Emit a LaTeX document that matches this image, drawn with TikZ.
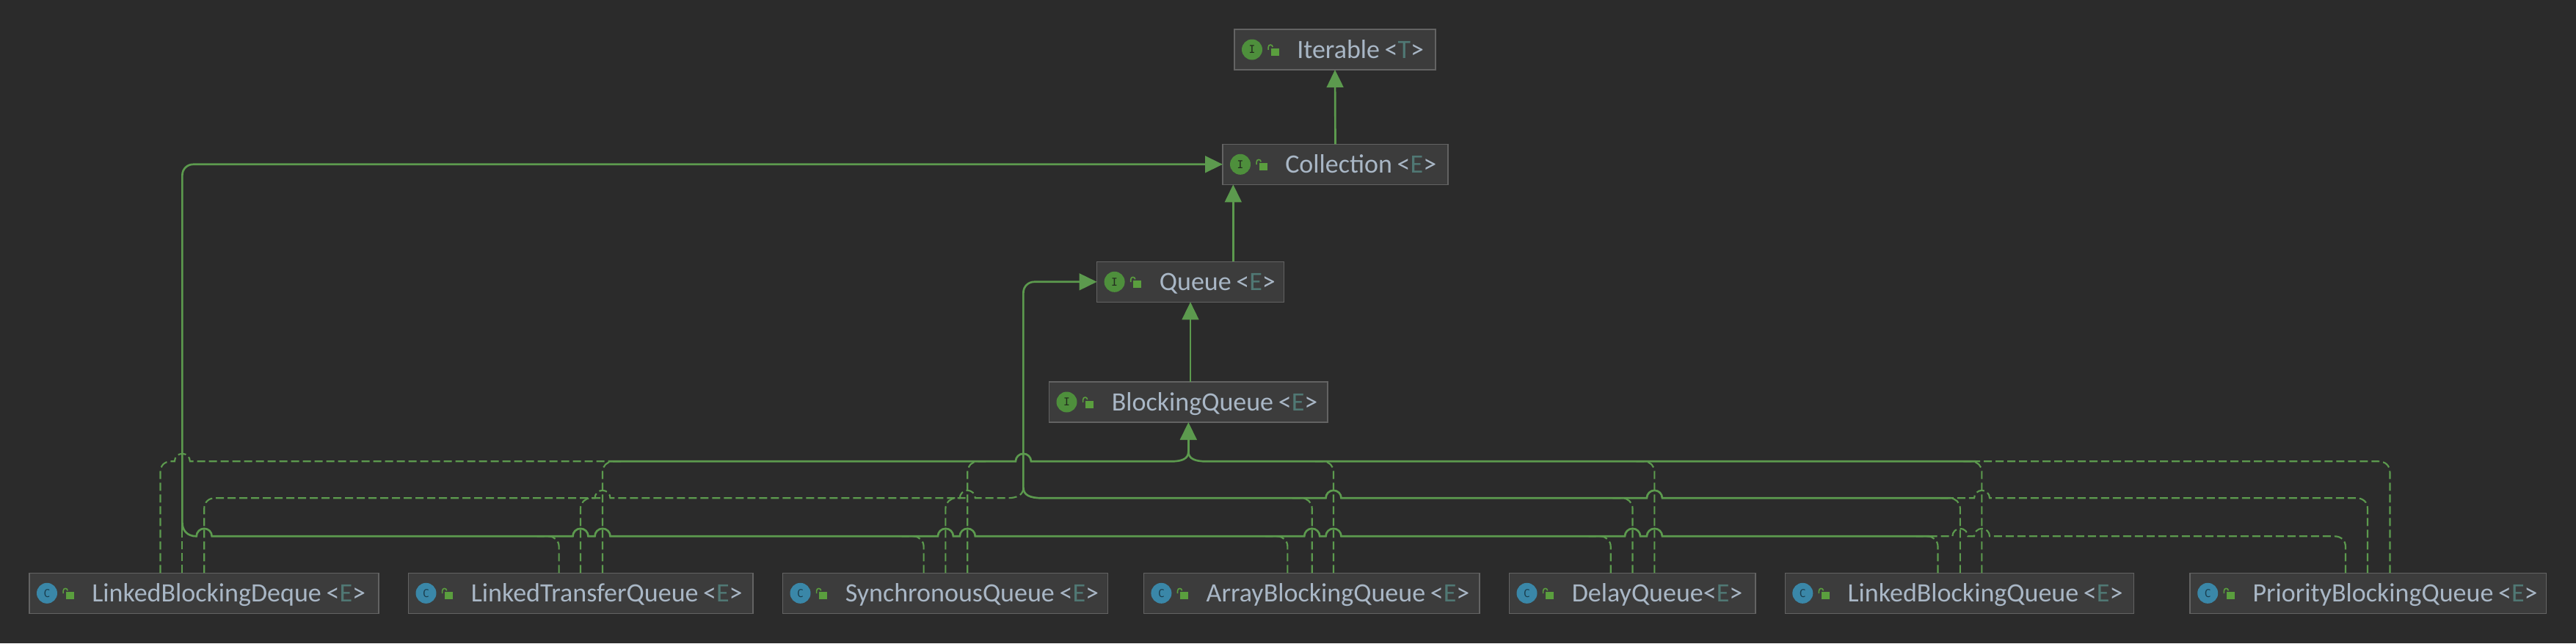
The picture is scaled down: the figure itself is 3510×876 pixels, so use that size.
\documentclass[tikz,border=0pt]{standalone}
\usepackage{fontspec}
\usetikzlibrary{arrows.meta,calc}

\newfontfamily\labelfont{Carlito}
\newfontfamily\badgefont{DejaVu Sans Mono}

\definecolor{canvasbg}{HTML}{2B2B2B}
\definecolor{boxfill}{HTML}{3C3C3C}
\definecolor{boxedge}{HTML}{636363}
\definecolor{labelcol}{HTML}{A9B7C6}
\definecolor{genericcol}{HTML}{507874}
\definecolor{linegreen}{HTML}{5C9A4E}
\definecolor{lockgreen}{HTML}{5A9E3E}
\definecolor{badgeI}{HTML}{4E8F3C}
\definecolor{badgeC}{HTML}{3A87A8}
\definecolor{badgetxtI}{HTML}{232B1E}
\definecolor{badgetxtC}{HTML}{1B3F50}

\newcommand{\gentight}[1]{<{\color{genericcol}#1}>}
\newcommand{\gen}[1]{\kern5pt\gentight{#1}}
\newcommand{\hopat}[2]{-- (#1-10.5,#2) arc[start angle=180,end angle=360,radius=10.5]}

\tikzset{
  umlbox/.style={draw=boxedge,fill=boxfill,line width=1.2pt,anchor=north west,inner sep=0pt,outer sep=0pt,minimum height=41.25pt},
  boxwide/.style={minimum width=#1*0.75pt},
  badge/.style={circle,inner sep=0pt,minimum size=21pt,font=\fontsize{11}{12}\badgefont},
  boxlabel/.style={anchor=base west,inner sep=0pt,text=labelcol,font=\fontsize{27}{32}\labelfont},
  busline/.style={draw=linegreen,line width=2pt},
  dashline/.style={draw=linegreen,line width=1.6pt,dash pattern=on 8.25pt off 3.75pt},
  >={Triangle[length=18pt,width=17pt]},
  lockmark/.pic={
    \fill[lockgreen] (0,0) rectangle (11,10);
    \draw[lockgreen,line width=1.2pt] (-3.6,2.3) -- (-3.6,-1) .. controls (-3.6,-5.5) and (2,-5.5) .. (2.5,-1.5);
  }
}

\begin{document}
\begin{tikzpicture}[x=0.75pt,y=0.75pt,yscale=-1,xscale=1]
\fill[canvasbg] (0,0) rectangle (3510,876);

% Boxes
\foreach \nm/\bx/\by/\bw/\txt/\kind in {
  iterable/1682/40/274/Iterable\gen{T}/I,
  collection/1666/196.3/307/Collection\gen{E}/I,
  queue/1494.6/356.3/255/Queue\gen{E}/I,
  blocking/1429.5/520/379.5/BlockingQueue\gen{E}/I,
  lbd/40/780.3/476/LinkedBlockingDeque\gen{E}/C,
  ltq/556.5/780.3/469.2/LinkedTransferQueue\gen{E}/C,
  sq/1066.5/780.3/443.1/SynchronousQueue\gen{E}/C,
  abq/1558.4/780.3/457.3/ArrayBlockingQueue\gen{E}/C,
  dq/2056.5/780.3/335.2/DelayQueue\gentight{E}/C,
  lbq/2432.3/780.3/475.3/LinkedBlockingQueue\gen{E}/C,
  pbq/2984.2/780.3/485.2/PriorityBlockingQueue\gen{E}/C}{
  \node[umlbox,boxwide=\bw] (\nm) at (\bx,\by) {};
  \node[badge,fill=badge\kind,text=badgetxt\kind] (\nm badge) at ($(\nm.west)+(24,0)$) {\kind};
  \path ($(\nm.west)+(49.7,-2)$) pic[transform shape] {lockmark};
  \node[boxlabel] (\nm label) at ($(\nm.west)+(85,12)$) {\txt};
}

% Junctions
\coordinate (collectionhub) at (248.4,712);
\coordinate (queuehub) at (1394.4,664);
\coordinate (blockinghub) at (1619.3,615);

% Straight Lines
\draw[busline,->] (collection.north) -- (iterable.south);
\draw[busline,->] (1680.3,0 |- queue.north) -- (1680.3,0 |- collection.south);
\draw[busline,->] (1622,0 |- blocking.north) -- (1622,0 |- queue.south);
\draw[busline,->] (blockinghub) -- (blockinghub |- blocking.south);
\draw[busline,->,rounded corners=11pt] (queuehub) -- (queuehub |- queue.west) -- (queue.west);
\draw[busline,->,rounded corners=11pt] (collectionhub) -- (collectionhub |- collection.west) -- (collection.west);

% Class legs
\foreach \nm/\vx/\lev/\dir in {
  lbd/248.4/722/0,
  ltq/761.6/730.3/-1, ltq/791/678.3/1, ltq/821/628.3/1,
  sq/1258.6/730.3/-1, sq/1288.4/678.3/1, sq/1318.3/628.3/1,
  abq/1754.4/730.3/-1, abq/1787.7/678.3/-1, abq/1817/628.3/-1,
  dq/2194.7/730.3/-1, dq/2224.5/678.3/-1, dq/2254.4/628.3/-1,
  lbq/2640.5/730.3/-1, lbq/2670.8/678.3/-1, lbq/2700.4/628.3/-1}{
  \draw[dashline,rounded corners=10.5pt] (\vx,0 |- \nm.north) -- (\vx,\lev) -- (\vx+\dir*30,\lev);
}

% Upper level
\draw[dashline] (218.5,0 |- lbd.north) -- (218.5,643) .. controls (218.5,634) and (224,628.3) .. (233,628.3) \hopat{248.4}{628.3} -- (829,628.3);
\draw[busline] (829,628.3) \hopat{1394.4}{628.3} -- (1596,628.3) .. controls (1610,628.3) and (1619.3,625) .. (blockinghub);
\draw[busline] (2692,628.3) -- (1643,628.3) .. controls (1629,628.3) and (1619.3,625) .. (blockinghub);
\draw[dashline] (3256.4,0 |- pbq.north) -- (3256.4,643) .. controls (3256.4,634) and (3250,628.3) .. (3241,628.3) -- (2692,628.3);

% Middle level
\draw[dashline] (278.2,0 |- lbd.north) -- (278.2,693) .. controls (278.2,684) and (284,678.3) .. (293,678.3) \hopat{821}{678.3} \hopat{1318.3}{678.3} -- (1372,678.3) .. controls (1386,678.3) and (1394.4,674) .. (queuehub);
\draw[busline] (queuehub) .. controls (1394.4,674) and (1403,678.3) .. (1420,678.3) \hopat{1817}{678.3} \hopat{2254.4}{678.3} -- (2658,678.3);
\draw[dashline] (3226,0 |- pbq.north) -- (3226,693) .. controls (3226,684) and (3220,678.3) .. (3211,678.3) -- (2711,678.3) arc[start angle=360,end angle=180,radius=10.5] -- (2658,678.3);

% Lower level
\draw[busline] (collectionhub) .. controls (248.4,722) and (255,730.3) .. (267.7,730.3) \foreach \hx in {278.2,791,821,1288.4,1318.3,1787.7,1817,2224.5,2254.4}{\hopat{\hx}{730.3}} -- (2629,730.3);
\draw[dashline] (3196,0 |- pbq.north) -- (3196,745) .. controls (3196,736) and (3190,730.3) .. (3181,730.3) -- (2711,730.3) arc[start angle=360,end angle=180,radius=10.5] -- (2681.3,730.3) arc[start angle=360,end angle=180,radius=10.5] -- (2629,730.3);

\end{tikzpicture}
\end{document}
